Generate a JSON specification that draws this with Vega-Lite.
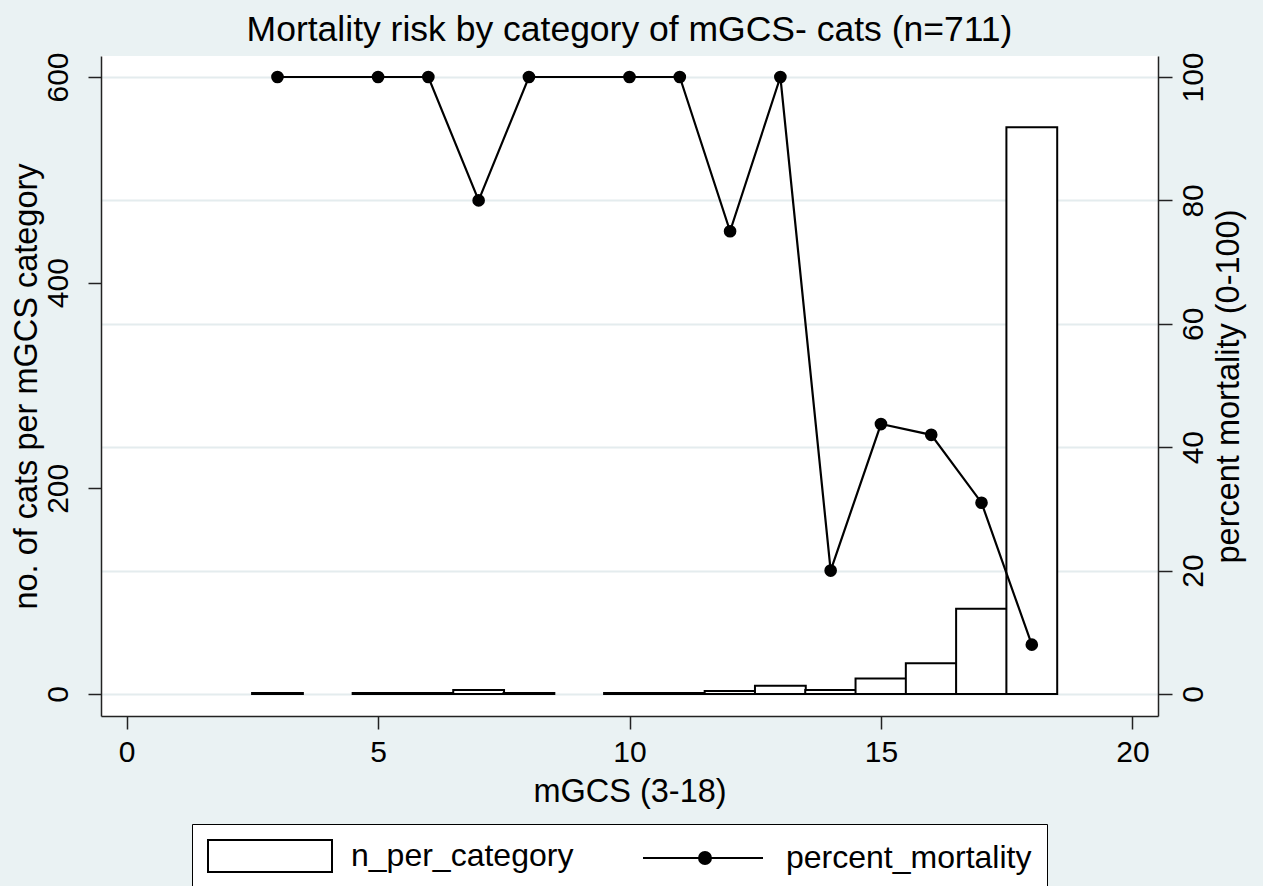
{
  "$schema": "https://vega.github.io/schema/vega-lite/v6.json",
  "width": 1057,
  "height": 660,
  "autosize": {"type": "none"},
  "padding": {"left": 101, "top": 56, "right": 105, "bottom": 170},
  "background": "#eaf2f3",
  "config": {"view": {"stroke": null, "fill": "white"}, "font": "Liberation Sans"},
  "title": {"text": "Mortality risk by category of mGCS- cats (n=711)", "fontSize": 35.5, "fontWeight": "normal", "color": "black", "font": "Liberation Sans", "anchor": "middle", "frame": "group", "offset": -32, "baseline": "bottom"},
  "datasets": {
    "counts": [
      {"mgcs": 3, "n": 1}, {"mgcs": 5, "n": 1}, {"mgcs": 6, "n": 1}, {"mgcs": 7, "n": 4},
      {"mgcs": 8, "n": 1}, {"mgcs": 10, "n": 1}, {"mgcs": 11, "n": 1}, {"mgcs": 12, "n": 3},
      {"mgcs": 13, "n": 8}, {"mgcs": 14, "n": 4}, {"mgcs": 15, "n": 15}, {"mgcs": 16, "n": 30},
      {"mgcs": 17, "n": 83}, {"mgcs": 18, "n": 551}
    ],
    "mort": [
      {"mgcs": 3, "pct": 100, "series": "percent_mortality"},
      {"mgcs": 5, "pct": 100, "series": "percent_mortality"},
      {"mgcs": 6, "pct": 100, "series": "percent_mortality"},
      {"mgcs": 7, "pct": 80, "series": "percent_mortality"},
      {"mgcs": 8, "pct": 100, "series": "percent_mortality"},
      {"mgcs": 10, "pct": 100, "series": "percent_mortality"},
      {"mgcs": 11, "pct": 100, "series": "percent_mortality"},
      {"mgcs": 12, "pct": 75, "series": "percent_mortality"},
      {"mgcs": 13, "pct": 100, "series": "percent_mortality"},
      {"mgcs": 14, "pct": 20, "series": "percent_mortality"},
      {"mgcs": 15, "pct": 43.75, "series": "percent_mortality"},
      {"mgcs": 16, "pct": 42, "series": "percent_mortality"},
      {"mgcs": 17, "pct": 31, "series": "percent_mortality"},
      {"mgcs": 18, "pct": 8, "series": "percent_mortality"}
    ]
  },
  "layer": [
    {
      "data": {"name": "counts"},
      "mark": {"type": "bar", "fill": "white", "stroke": "black", "strokeWidth": 2, "width": 50.8},
      "encoding": {
        "x": {
          "field": "mgcs", "type": "quantitative",
          "scale": {"domain": [-0.41, 20.41], "nice": false, "zero": false},
          "axis": {"values": [0, 5, 10, 15, 20], "title": "mGCS (3-18)", "grid": false, "labelFlush": false,
            "labelFontSize": 30, "titleFontSize": 32.5, "titleFontWeight": "normal", "labelColor": "black", "titleColor": "black",
            "labelFont": "Liberation Sans", "titleFont": "Liberation Sans",
            "tickSize": 13, "tickWidth": 1.5, "tickColor": "#222", "domainColor": "#222", "domainWidth": 1.5,
            "labelPadding": 8, "titlePadding": 8}
        },
        "y": {
          "field": "n", "type": "quantitative", "stack": null,
          "scale": {"domain": [-21.4, 620.4], "nice": false, "zero": false},
          "axis": {"orient": "left", "values": [0, 200, 400, 600], "title": "no. of cats per mGCS category", "grid": false, "labelFlush": false,
            "labelAngle": 270, "labelFontSize": 30, "titleFontSize": 32.5, "titleFontWeight": "normal", "labelColor": "black", "titleColor": "black",
            "labelFont": "Liberation Sans", "titleFont": "Liberation Sans",
            "tickSize": 13, "tickWidth": 1.5, "tickColor": "#222", "domainColor": "#222", "domainWidth": 1.5,
            "labelPadding": 15, "titlePadding": 0}
        }
      }
    },
    {
      "data": {"name": "mort"},
      "layer": [
        {
          "mark": {"type": "line", "color": "black", "strokeWidth": 2.2},
          "encoding": {
            "x": {"field": "mgcs", "type": "quantitative"},
            "y": {
              "field": "pct", "type": "quantitative",
              "scale": {"domain": [-3.567, 103.4], "nice": false, "zero": false},
              "axis": {"orient": "right", "values": [0, 20, 40, 60, 80, 100], "title": "percent mortality (0-100)", "grid": true, "gridColor": "#e4ecee", "gridWidth": 2, "labelFlush": false,
                "labelAngle": 270, "titleAngle": 270, "labelFontSize": 30, "titleFontSize": 32.5, "titleFontWeight": "normal", "labelColor": "black", "titleColor": "black",
                "labelFont": "Liberation Sans", "titleFont": "Liberation Sans",
                "tickSize": 14, "tickWidth": 1.5, "tickColor": "#222", "domainColor": "#222", "domainWidth": 1.5,
                "labelPadding": 6, "titlePadding": 37}
            }
          }
        },
        {
          "mark": {"type": "point", "filled": true, "color": "black", "size": 160, "opacity": 1},
          "encoding": {
            "x": {"field": "mgcs", "type": "quantitative"},
            "y": {"field": "pct", "type": "quantitative"}
          }
        },
        {
          "mark": {"type": "point", "filled": true, "opacity": 0, "size": 100, "strokeWidth": 2},
          "encoding": {
            "x": {"field": "mgcs", "type": "quantitative"},
            "y": {"field": "pct", "type": "quantitative"},
            "shape": {
              "field": "series", "type": "nominal",
              "scale": {"domain": ["n_per_category", "percent_mortality"], "range": ["M-1,-1H6.75V1H-1Z", "M-1,0H6.5M2.5,0A0.375,0.375,0,1,1,3.25,0A0.375,0.375,0,1,1,2.5,0Z"]},
              "legend": {"title": null, "orient": "none", "legendX": 91, "legendY": 768, "direction": "horizontal", "fillColor": "white", "strokeColor": "black", "padding": 15,
                "labelFontSize": 32, "labelFont": "Liberation Sans", "labelColor": "black", "labelLimit": 500, "symbolSize": 1024, "symbolStrokeWidth": 2, "symbolStrokeColor": "black", "symbolOpacity": 1,
                "labelOffset": 110, "columnPadding": 65,
                "encode": {"symbols": {"update": {"opacity": {"value": 1}, "stroke": {"value": "black"}, "strokeWidth": {"value": 2}}}}}
            },
            "fill": {
              "field": "series", "type": "nominal",
              "scale": {"domain": ["n_per_category", "percent_mortality"], "range": ["white", "black"]},
              "legend": {"title": null, "orient": "none", "legendX": 91, "legendY": 768, "direction": "horizontal", "fillColor": "white", "strokeColor": "black", "padding": 15,
                "labelFontSize": 32, "labelFont": "Liberation Sans", "labelColor": "black", "labelLimit": 500, "symbolSize": 1024, "symbolStrokeWidth": 2, "symbolStrokeColor": "black", "symbolOpacity": 1,
                "labelOffset": 110, "columnPadding": 65,
                "encode": {"symbols": {"update": {"opacity": {"value": 1}, "stroke": {"value": "black"}, "strokeWidth": {"value": 2}}}}}
            },
            "stroke": {"value": "black"}
          }
        }
      ]
    }
  ],
  "resolve": {"scale": {"y": "independent"}}
}
